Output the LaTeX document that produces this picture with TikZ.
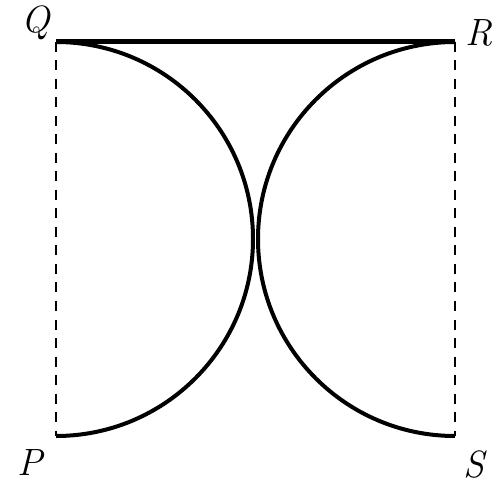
\documentclass[tikz,border=0pt]{standalone}
\begin{document}
\begin{tikzpicture}[x=1pt,y=1pt,
  lbl/.style={font=\fontsize{38}{38}\selectfont\itshape, inner sep=0pt},
  arcline/.style={line width=4pt},
  side/.style={line width=1.2pt, dash pattern=on 10pt off 8.5pt}]
\useasboundingbox (0,0) rectangle (502,487);
\coordinate (Q) at (56,445);
\coordinate (R) at (455,445);
\coordinate (P) at (56,51);
\coordinate (S) at (455,51);
\draw[side] (Q) -- (P);
\draw[side] (R) -- (S);
\draw[line width=5pt] (Q) -- (R);
\draw[arcline] (Q) arc[start angle=90, end angle=-90, radius=197];
\draw[arcline] (R) arc[start angle=90, end angle=270, radius=197];
\node[lbl] (lq) at (36,464) {Q};
\node[lbl] (lr) at (479,454) {R};
\node[lbl] (lp) at (30,24) {P};
\node[lbl] (ls) at (474,22) {S};
\end{tikzpicture}
\end{document}
